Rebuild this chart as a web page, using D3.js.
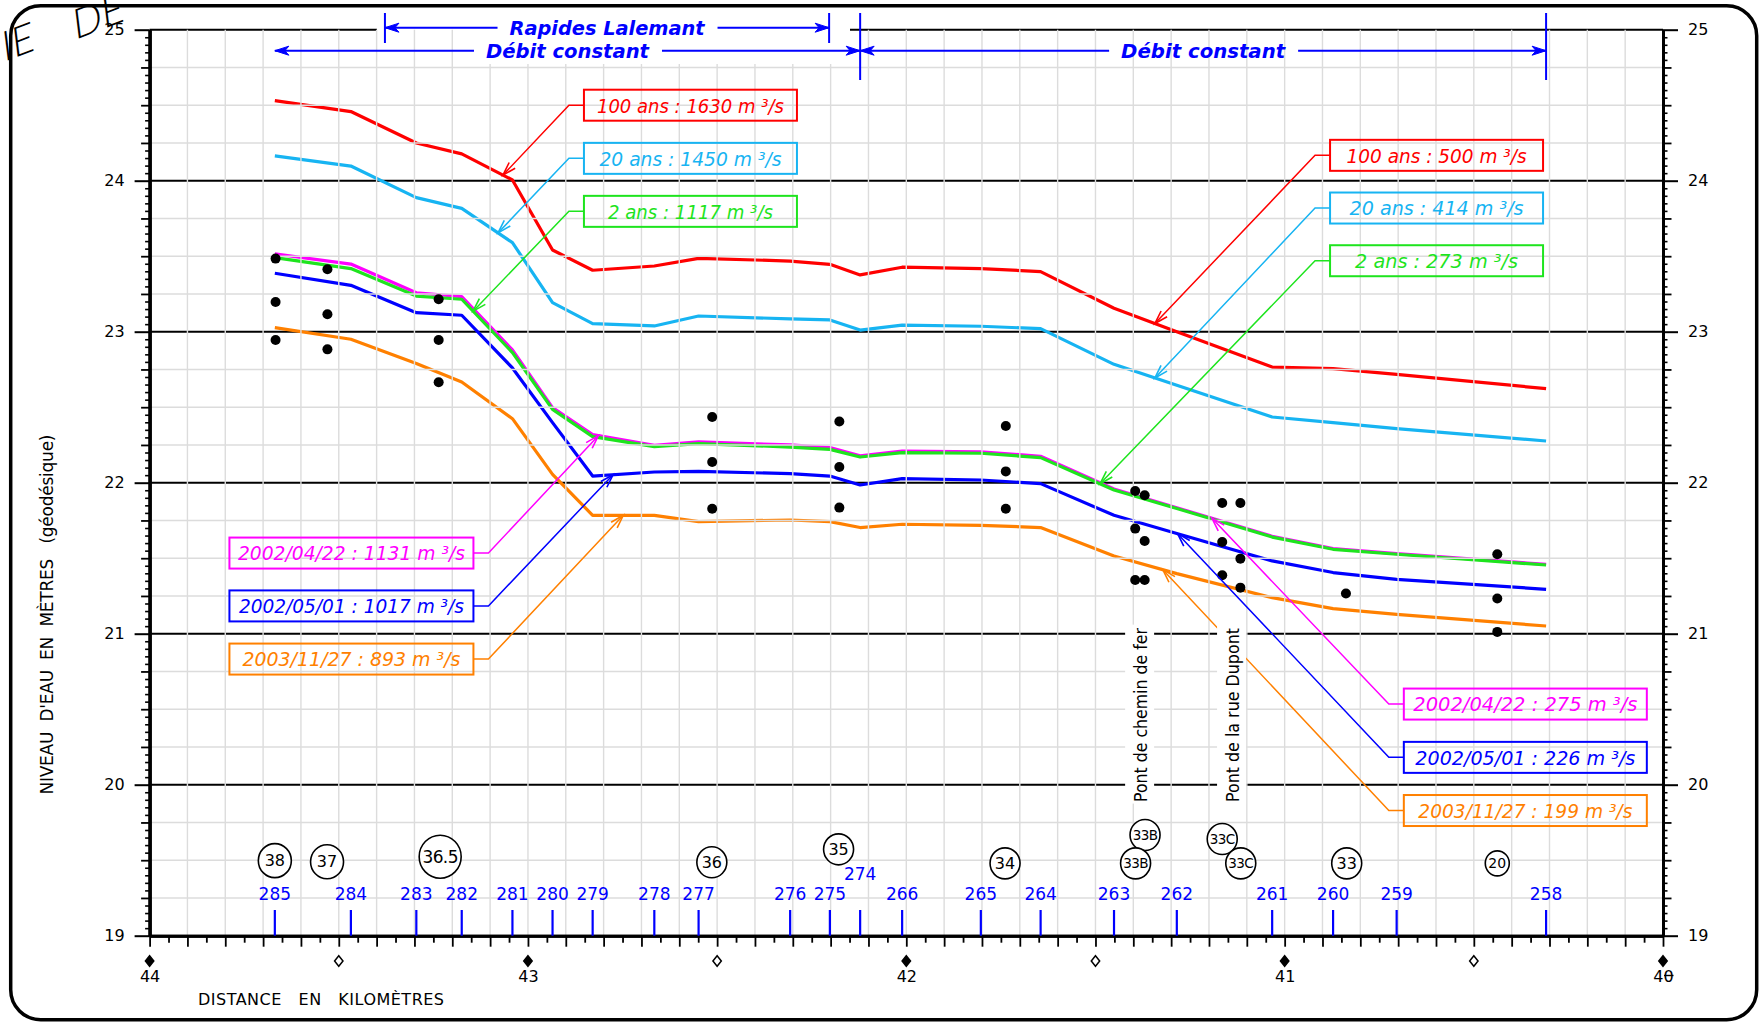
<!DOCTYPE html>
<html lang="fr">
<head>
<meta charset="utf-8">
<title>Profil de la ligne d'eau</title>
<script src="https://cdn.jsdelivr.net/npm/d3@7/dist/d3.min.js"></script>
<style>
  html, body { margin: 0; padding: 0; background: #fff; }
  svg { display: block; }
  text.pre { white-space: pre; }
</style>
</head>
<body>
<svg id="profil" width="1764" height="1025"></svg>
<script>
// ---------------- data ----------------
// Cross sections along the reach (id and chainage in km)
const sectionIds = ['285','284','283','282','281','280','279','278','277','276','275','274',
                    '266','265','264','263','262','261','260','259','258'];
const sectionKm  = [43.669, 43.468, 43.295, 43.175, 43.041, 42.935, 42.829, 42.666, 42.549, 42.307, 42.202, 42.122,
                    42.011, 41.803, 41.645, 41.451, 41.285, 41.033, 40.872, 40.704, 40.309];

// Computed water levels (m, geodetic) at each cross section
const level100ans    = [24.530, 24.458, 24.250, 24.178, 24.005, 23.541, 23.407, 23.435, 23.486, 23.468, 23.446, 23.376,
                        23.427, 23.418, 23.398, 23.155, 23.000, 22.766, 22.755, 22.717, 22.623];
const level20ans     = [24.164, 24.097, 23.888, 23.817, 23.590, 23.193, 23.054, 23.038, 23.104, 23.085, 23.078, 23.011,
                        23.044, 23.036, 23.020, 22.784, 22.645, 22.435, 22.398, 22.358, 22.276];
const level2ans      = [23.491, 23.418, 23.236, 23.215, 22.862, 22.486, 22.305, 22.239, 22.259, 22.236, 22.221, 22.170,
                        22.199, 22.195, 22.166, 21.952, 21.829, 21.640, 21.559, 21.526, 21.455];
const level20020422  = [23.515, 23.448, 23.258, 23.232, 22.879, 22.497, 22.318, 22.248, 22.270, 22.250, 22.232, 22.178,
                        22.210, 22.205, 22.175, 21.958, 21.834, 21.645, 21.563, 21.530, 21.459];
const level20020501  = [23.387, 23.307, 23.126, 23.109, 22.760, 22.398, 22.044, 22.071, 22.075, 22.060, 22.044, 21.985,
                        22.027, 22.018, 21.994, 21.784, 21.664, 21.482, 21.405, 21.360, 21.294];
const level20031127  = [23.027, 22.950, 22.790, 22.667, 22.424, 22.055, 21.784, 21.784, 21.742, 21.753, 21.742, 21.703,
                        21.725, 21.718, 21.703, 21.515, 21.398, 21.239, 21.166, 21.128, 21.051];

const seriesNames    = ['100 ans', '20 ans', '2 ans', '2002/04/22', '2002/05/01', '2003/11/27'];
const flowUpstream   = [1630, 1450, 1117, 1131, 1017, 893];
const flowDownstream = [500, 414, 273, 275, 226, 199];

// Surveyed water levels (black dots)
const obsKm    = [43.667, 43.667, 43.667, 43.530, 43.530, 43.530, 43.236, 43.236, 43.236,
                  42.513, 42.513, 42.513, 42.177, 42.177, 42.177, 41.737, 41.737, 41.737,
                  41.395, 41.395, 41.395, 41.370, 41.370, 41.370,
                  41.165, 41.165, 41.165, 41.117, 41.117, 41.117,
                  40.838, 40.438, 40.438, 40.438];
const obsLevel = [23.484, 23.197, 22.945, 23.413, 23.115, 22.883, 23.215, 22.945, 22.665,
                  22.435, 22.137, 21.828, 22.405, 22.104, 21.835, 22.376, 22.075, 21.828,
                  21.945, 21.696, 21.356, 21.917, 21.614, 21.356,
                  21.866, 21.607, 21.387, 21.866, 21.497, 21.305,
                  21.266, 21.526, 21.233, 21.012];

// Map section references (circled)
const circleIds   = ['38', '37', '36.5', '36', '35', '34', '33B', '33B', '33C', '33C', '33', '20'];
const circleKm    = [43.669, 43.531, 43.232, 42.514, 42.179, 41.739, 41.369, 41.394, 41.165, 41.116, 40.836, 40.438];
const circleLevel = [19.497, 19.490, 19.523, 19.486, 19.572, 19.479, 19.667, 19.479, 19.640, 19.479, 19.479, 19.479];

// Bridges
const bridgeNames = ['Pont de chemin de fer', 'Pont de la rue Dupont'];
const bridgeKm    = [41.382, 41.139];

// Reaches
const reachNames  = ['Rapides Lalemant', 'Débit constant', 'Débit constant'];
const reachFromKm = [43.378, 43.669, 42.122];
const reachToKm   = [42.204, 42.122, 40.309];

// Axis labels
const kmLabels    = [44, 43, 42, 41, 40];
const levelLabels = [19, 20, 21, 22, 23, 24, 25];

// ---------------- drawing ----------------
const svg = d3.select('#profil');
const FONT = '"DejaVu Sans", Verdana, sans-serif';
const CAD  = '"Liberation Sans Narrow", "DejaVu Sans Condensed", "DejaVu Sans", sans-serif';
const BLUE = '#0000ff';

const x = d3.scaleLinear().domain([44, 40]).range([149.6, 1663]);
const y = d3.scaleLinear().domain([19, 25]).range([935.7, 29.7]);
const X0 = x(44), X1 = x(40), Y0 = y(19), Y1 = y(25);

const palette = {
  '100 ans': '#ff0000', '20 ans': '#17b4f2', '2 ans': '#1ee41e',
  '2002/04/22': '#ff00ff', '2002/05/01': '#0000ff', '2003/11/27': '#ff8000'
};
const levelTables = [level100ans, level20ans, level2ans, level20020422, level20020501, level20031127];
const series = seriesNames.map((name, i) => ({
  name, values: levelTables[i], color: palette[name], up: flowUpstream[i], down: flowDownstream[i],
  at: d3.scaleLinear().domain(sectionKm).range(levelTables[i])
}));

// outer sheet frame
svg.append('rect')
  .attr('x', 10.7).attr('y', 5.7).attr('width', 1746).attr('height', 1014).attr('rx', 30)
  .attr('fill', 'none').attr('stroke', '#000').attr('stroke-width', 3.5);

// fragment of the sheet title
const frag = svg.append('g')
  .attr('font-family', 'Lato, "DejaVu Sans", sans-serif').attr('font-weight', 300)
  .attr('font-size', 40).attr('fill', '#000');
frag.append('text').attr('transform', 'translate(4,62) rotate(-21) skewX(-14)').text('IE');
frag.append('text').attr('transform', 'translate(75,40) rotate(-21) skewX(-14)').text('DE');

// integer level lines
const gMajor = svg.append('g').attr('stroke', '#000').attr('stroke-width', 2);
levelLabels.filter(v => v > 19 && v < 25).forEach(v => {
  gMajor.append('line').attr('x1', X0).attr('x2', X1).attr('y1', y(v)).attr('y2', y(v));
});
// top line is interrupted around the rapids annotation
gMajor.append('line').attr('x1', X0).attr('x2', x(reachFromKm[0]) - 8).attr('y1', Y1).attr('y2', Y1);
gMajor.append('line').attr('x1', x(reachToKm[0]) + 9).attr('x2', X1).attr('y1', Y1).attr('y2', Y1);

// water surface profiles
const line = d3.line().x((d, i) => x(sectionKm[i])).y(d => y(d)).curve(d3.curveLinear);
const drawOrder = [0, 1, 3, 2, 4, 5];
svg.append('g').attr('fill', 'none').attr('stroke-width', 3.2).attr('stroke-linejoin', 'round')
  .selectAll('path').data(drawOrder.map(i => series[i])).join('path')
  .attr('stroke', d => d.color).attr('d', d => line(d.values));

// light grid (drawn over the profiles, as on the plotted sheet)
const gGrid = svg.append('g').attr('stroke', '#dcdcdc').attr('stroke-width', 1.4);
d3.range(1, 40).map(i => +(44 - i * 0.1).toFixed(2)).forEach(k => {
  gGrid.append('line').attr('x1', x(k)).attr('x2', x(k)).attr('y1', Y0).attr('y2', Y1);
});
d3.range(1, 24).filter(i => i % 4 !== 0).map(i => 19 + i * 0.25).forEach(v => {
  gGrid.append('line').attr('x1', X0).attr('x2', X1).attr('y1', y(v)).attr('y2', y(v));
});

// blank band behind the reach titles
svg.append('rect').attr('x', 484).attr('y', 20).attr('width', 366).attr('height', 44).attr('fill', '#fff');

// surveyed levels
svg.append('g').selectAll('circle').data(obsKm).join('circle')
  .attr('cx', d => x(d)).attr('cy', (d, i) => y(obsLevel[i])).attr('r', 5).attr('fill', '#000');

// ---------- discharge labels with leaders ----------
const labelGroups = [
  { idx: [0, 1, 2], flow: 'up',   boxKm: 42.852, boxW: 213, rows: [24.500, 24.148, 23.797], side: 'left',
    tipKm: [43.066, 43.079, 43.145], textW: [187, 182, 165] },
  { idx: [3, 4, 5], flow: 'up',   boxKm: 43.789, boxW: 244, rows: [21.534, 21.184, 20.832], side: 'right',
    tipKm: [42.814, 42.775, 42.748], textW: [227, 225, 218] },
  { idx: [0, 1, 2], flow: 'down', boxKm: 40.880, boxW: 213, rows: [24.168, 23.819, 23.470], side: 'left',
    tipKm: [41.343, 41.343, 41.488], textW: [180, 174, 163] },
  { idx: [3, 4, 5], flow: 'down', boxKm: 40.685, boxW: 243, rows: [20.534, 20.181, 19.829], side: 'left',
    tipKm: [41.192, 41.283, 41.322], textW: [224, 220, 214] }
];
const BOX_H = 31;
const gLab = svg.append('g');
labelGroups.forEach(gr => {
  gr.idx.forEach((si, j) => {
    const s = series[si];
    const bx = x(gr.boxKm), cy = y(gr.rows[j]);
    const sx = gr.side === 'left' ? bx : bx + gr.boxW;
    const ex = gr.side === 'left' ? bx - 15 : bx + gr.boxW + 15;
    const tx = x(gr.tipKm[j]), ty = y(s.at(gr.tipKm[j]));
    gLab.append('path')
      .attr('d', `M${sx},${cy}L${ex},${cy}L${tx},${ty}`)
      .attr('fill', 'none').attr('stroke', s.color).attr('stroke-width', 1.5);
    // open arrow head
    const a = Math.atan2(ty - cy, tx - ex), L = 14, w = 0.3;
    gLab.append('path')
      .attr('d', `M${tx - L * Math.cos(a - w)},${ty - L * Math.sin(a - w)}L${tx},${ty}L${tx - L * Math.cos(a + w)},${ty - L * Math.sin(a + w)}`)
      .attr('fill', 'none').attr('stroke', s.color).attr('stroke-width', 1.6);
    gLab.append('rect')
      .attr('x', bx).attr('y', cy - BOX_H / 2).attr('width', gr.boxW).attr('height', BOX_H)
      .attr('fill', 'none').attr('stroke', s.color).attr('stroke-width', 2);
    const flow = gr.flow === 'up' ? s.up : s.down;
    gLab.append('text')
      .attr('x', bx + gr.boxW / 2).attr('y', cy + 7.3).attr('text-anchor', 'middle')
      .attr('font-family', CAD).attr('font-style', 'italic').attr('font-size', 19)
      .attr('fill', s.color).attr('textLength', gr.textW[j]).attr('lengthAdjust', 'spacingAndGlyphs')
      .text(`${s.name} : ${flow} m ³/s`);
  });
});

// ---------- bridges ----------
const gBr = svg.append('g');
bridgeNames.forEach((name, i) => {
  const cx = x(bridgeKm[i]);
  gBr.append('rect').attr('x', cx - 15).attr('y', y(21.06)).attr('width', 29)
    .attr('height', y(19.875) - y(21.06)).attr('fill', '#fff');
  gBr.append('text')
    .attr('transform', `translate(${cx + 6.5},${y(19.885)}) rotate(-90)`)
    .attr('font-family', FONT).attr('font-size', 17).attr('fill', '#000')
    .attr('textLength', 174).attr('lengthAdjust', 'spacingAndGlyphs')
    .text(name);
});

// ---------- reach annotations ----------
const gReach = svg.append('g').attr('fill', BLUE).attr('stroke', BLUE);
function head(tipX, tipY, dir) {
  gReach.append('path')
    .attr('d', `M${tipX},${tipY}L${tipX - dir * 14},${tipY - 4.5}L${tipX - dir * 10},${tipY}L${tipX - dir * 14},${tipY + 4.5}Z`)
    .attr('stroke-width', 1);
}
const reachRowY = [27.7, 50.7, 50.7];
const reachTextW = [195, 163, 164];
reachNames.forEach((name, i) => {
  const xa = x(reachFromKm[i]), xb = x(reachToKm[i]), yy = reachRowY[i];
  const mid = (xa + xb) / 2, half = reachTextW[i] / 2;
  gReach.append('line').attr('x1', xa).attr('x2', mid - half - 12).attr('y1', yy).attr('y2', yy).attr('stroke-width', 2);
  gReach.append('line').attr('x1', mid + half + 13).attr('x2', xb).attr('y1', yy).attr('y2', yy).attr('stroke-width', 2);
  head(xa, yy, -1);
  head(xb, yy, 1);
  gReach.append('text')
    .attr('x', mid).attr('y', yy + 7.5).attr('text-anchor', 'middle').attr('stroke', 'none')
    .attr('font-family', FONT).attr('font-weight', 'bold').attr('font-style', 'italic').attr('font-size', 20)
    .attr('textLength', reachTextW[i]).attr('lengthAdjust', 'spacingAndGlyphs')
    .text(name);
});
// limit marks
[[reachFromKm[0], 13, 43], [reachToKm[0], 13, 43], [reachToKm[1], 13, 80], [reachToKm[2], 13, 80]].forEach(([k, a, b]) => {
  gReach.append('line').attr('x1', x(k)).attr('x2', x(k)).attr('y1', a).attr('y2', b).attr('stroke-width', 2);
});

// ---------- axes ----------
function styleAxis(g, width) {
  g.selectAll('.tick line').attr('stroke', '#000').attr('stroke-width', width);
  g.selectAll('.tick text').attr('font-family', FONT).attr('font-size', 16).attr('fill', '#000');
  g.select('.domain').attr('stroke', '#000').attr('stroke-width', 3);
}
const lv = d3.range(0, 121).map(i => ({ i, v: +(19 + i * 0.05).toFixed(2) }));
const fineLv = lv.filter(d => d.i % 5 !== 0).map(d => d.v);
const quarterLv = lv.filter(d => d.i % 5 === 0 && d.i % 20 !== 0).map(d => d.v);

[[d3.axisLeft, X0], [d3.axisRight, X1]].forEach(([axisFn, px]) => {
  const g1 = svg.append('g').attr('transform', `translate(${px},0)`)
    .call(axisFn(y).tickValues(fineLv).tickSize(4.5).tickSizeOuter(0).tickFormat(''));
  styleAxis(g1, 1.6);
  const g2 = svg.append('g').attr('transform', `translate(${px},0)`)
    .call(axisFn(y).tickValues(quarterLv).tickSize(8.5).tickSizeOuter(0).tickFormat(''));
  styleAxis(g2, 1.8);
  const g3 = svg.append('g').attr('transform', `translate(${px},0)`)
    .call(axisFn(y).tickValues(levelLabels).tickSize(15).tickPadding(10).tickSizeOuter(0).tickFormat(d3.format('d')));
  styleAxis(g3, 2);
});

const kmv = d3.range(0, 81).map(i => ({ i, v: +(44 - i * 0.05).toFixed(2) }));
const gb1 = svg.append('g').attr('transform', `translate(0,${Y0})`)
  .call(d3.axisBottom(x).tickValues(kmv.filter(d => d.i % 2 === 1).map(d => d.v)).tickSize(7).tickSizeOuter(0).tickFormat(''));
styleAxis(gb1, 1.8);
const gb2 = svg.append('g').attr('transform', `translate(0,${Y0})`)
  .call(d3.axisBottom(x).tickValues(kmv.filter(d => d.i % 2 === 0).map(d => d.v)).tickSize(11).tickSizeOuter(0).tickFormat(''));
styleAxis(gb2, 1.8);
const gb3 = svg.append('g').attr('transform', `translate(0,${Y0})`)
  .call(d3.axisBottom(x).tickValues(kmLabels).tickSize(0).tickPadding(34.5).tickSizeOuter(0).tickFormat(d3.format('d')));
styleAxis(gb3, 0);
gb3.select('.domain').remove();
// the last label is crossed by a stray stroke on the sheet
svg.append('line').attr('x1', x(40) + 1).attr('x2', x(40) + 10.5).attr('y1', 975.5).attr('y2', 975.5)
  .attr('stroke', '#000').attr('stroke-width', 1.4);

// kilometre markers: filled at whole km, open at half km
const diamond = 'M0,-5.2L4.2,0L0,5.2L-4.2,0Z';
svg.append('g').selectAll('path').data(d3.range(0, 9).map(i => 44 - i * 0.5)).join('path')
  .attr('transform', d => `translate(${x(d)},961)`).attr('d', diamond)
  .attr('fill', d => (d % 1 === 0 ? '#000' : '#fff')).attr('stroke', '#000').attr('stroke-width', 1.5);

// axis titles
svg.append('text').attr('class', 'pre')
  .attr('x', 198).attr('y', 1005).attr('font-family', FONT).attr('font-size', 16)
  .attr('textLength', 246).attr('lengthAdjust', 'spacing')
  .text('DISTANCE   EN   KILOMÈTRES');
svg.append('text').attr('class', 'pre')
  .attr('transform', `translate(53.3,${(434 + 795) / 2}) rotate(-90)`).attr('text-anchor', 'middle')
  .attr('font-family', FONT).attr('font-size', 17)
  .attr('textLength', 360).attr('lengthAdjust', 'spacing')
  .text("NIVEAU  D'EAU  EN  MÈTRES   (géodésique)");

// ---------- cross sections ----------
const raisedLabels = ['274'];
const gSec = svg.append('g');
gSec.selectAll('line').data(sectionKm).join('line')
  .attr('x1', d => x(d)).attr('x2', d => x(d)).attr('y1', 910).attr('y2', Y0)
  .attr('stroke', BLUE).attr('stroke-width', 2.2);
gSec.selectAll('text').data(sectionIds).join('text')
  .attr('x', (d, i) => x(sectionKm[i])).attr('y', d => raisedLabels.includes(d) ? 880 : 900)
  .attr('text-anchor', 'middle').attr('font-family', FONT).attr('font-size', 17).attr('fill', BLUE)
  .text(d => d);

// circled map references
const circleR = id => ({ '36.5': 21, '38': 16.5, '37': 16.5, '20': 12 }[id] || 15);
const circleF = id => ({ '36.5': 17, '33B': 13.5, '33C': 13.5, '20': 14 }[id] || 16);
const gCirc = svg.append('g');
circleIds.forEach((id, i) => {
  const cx = x(circleKm[i]), cy = y(circleLevel[i]);
  gCirc.append('ellipse').attr('cx', cx).attr('cy', cy).attr('rx', circleR(id)).attr('ry', circleR(id) + 0.5)
    .attr('fill', '#fff').attr('stroke', '#000').attr('stroke-width', 1.6);
  gCirc.append('text').attr('x', cx).attr('y', cy).attr('dy', '0.36em').attr('text-anchor', 'middle')
    .attr('font-family', FONT).attr('font-size', circleF(id)).attr('fill', '#000')
    .attr('letter-spacing', id.length > 2 ? -0.6 : 0)
    .text(id);
});
</script>
</body>
</html>
